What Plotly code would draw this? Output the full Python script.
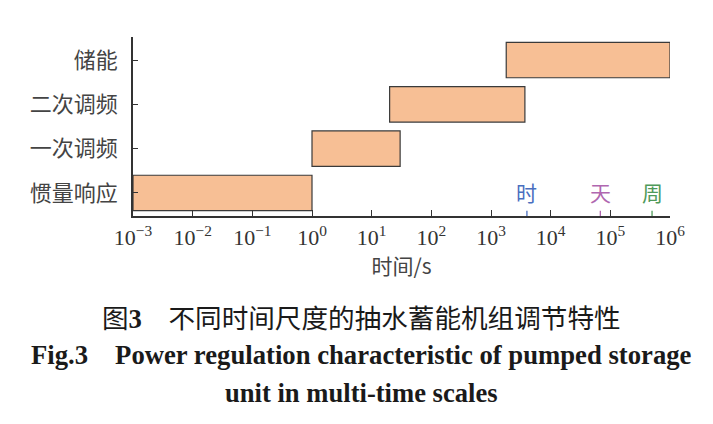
import numpy as np
import plotly.graph_objects as go

# categories and time spans (s)
categories = ["惯量响应", "一次调频", "二次调频", "储能"]
t_start = [1e-3, 1.0, 20.0, 1800.0]
t_end = [1.0, 30.0, 3700.0, 1e6]

# reference time marks
mark_labels = ["时", "天", "周"]
mark_values = [4000.0, 68000.0, 500000.0]
mark_colors = ["#4a6fbf", "#b067b0", "#4f9a5a"]

# x tick labels
tick_exp = [-3, -2, -1, 0, 1, 2, 3, 4, 5, 6]
tick_vals = [10.0 ** e for e in tick_exp]
tick_text = ["10<sup>%s</sup>" % str(e).replace("-", "−") for e in tick_exp]

serif = "Liberation Serif, Times New Roman, serif"
cjk = "Noto Sans CJK SC, sans-serif"
axis_col = "#333333"

lengths = [e - s for s, e in zip(t_start, t_end)]

fig = go.Figure()
fig.add_trace(go.Bar(
    y=categories, x=lengths, base=t_start, orientation="h",
    marker=dict(color="#f7bf95", line=dict(color="#3a3a3a", width=1.2)),
    showlegend=False, hoverinfo="skip",
))

# coloured short ticks + labels for hour / day / week
for lab, val, col in zip(mark_labels, mark_values, mark_colors):
    fig.add_shape(type="line", xref="x", yref="paper",
                  x0=val, x1=val, y0=0, y1=0.03,
                  line=dict(color=col, width=1.3))
    fig.add_annotation(x=np.log10(val), y=0.04, xref="x", yref="paper",
                       text=lab, showarrow=False, yanchor="bottom",
                       font=dict(family=cjk, size=21, color=col))

fig.update_xaxes(
    type="log", range=[-3, 6],
    tickvals=tick_vals, ticktext=tick_text,
    ticks="inside", ticklen=6, tickwidth=1.3, tickcolor=axis_col,
    showline=True, linecolor=axis_col, linewidth=1.5,
    showgrid=False, zeroline=False,
    tickfont=dict(family=serif, size=22, color=axis_col),
    ticklabelstandoff=1,
    title=dict(text="时间/s", standoff=2,
               font=dict(family=cjk, size=21, color="#444444")),
)
fig.update_yaxes(
    type="category", range=[-0.52, 3.52],
    ticks="inside", ticklen=5, tickwidth=1.3, tickcolor=axis_col,
    showline=True, linecolor=axis_col, linewidth=1.5,
    showgrid=False, zeroline=False,
    tickfont=dict(family=cjk, size=22, color="#444444"),
    ticklabelstandoff=9,
)

# figure caption (positions given in page pixels, converted below)
cap_col = "#1a1a1a"
captions = [
    ('图<span style="font-family:Liberation Serif"><b>3</b></span>\u3000不同时间尺度的抽水蓄能机组调节特性',
     cjk, 26.6, 316),
    ("<b>Fig.3\u3000Power regulation characteristic of pumped storage</b>",
     serif, 26.7, 355),
    ("<b>unit in multi-time scales</b>", serif, 26.6, 393),
]
plot_left, plot_right = 133, 670
plot_top, plot_bottom = 37, 216
for txt, fam, size, ypix in captions:
    fig.add_annotation(
        x=(361 - plot_left) / (plot_right - plot_left),
        y=(plot_bottom - ypix) / (plot_bottom - plot_top),
        xref="paper", yref="paper", showarrow=False,
        xanchor="center", yanchor="middle",
        text=txt, font=dict(family=fam, size=size, color=cap_col),
    )

# page body has an 8px margin, so offset the figure margins
fig.update_layout(
    width=713, height=424,
    margin=dict(l=plot_left - 8, r=713 + 8 - plot_right,
                t=plot_top - 8, b=424 + 8 - plot_bottom),
    paper_bgcolor="white", plot_bgcolor="white",
    bargap=0.2,
)

fig.write_html("out.html")
